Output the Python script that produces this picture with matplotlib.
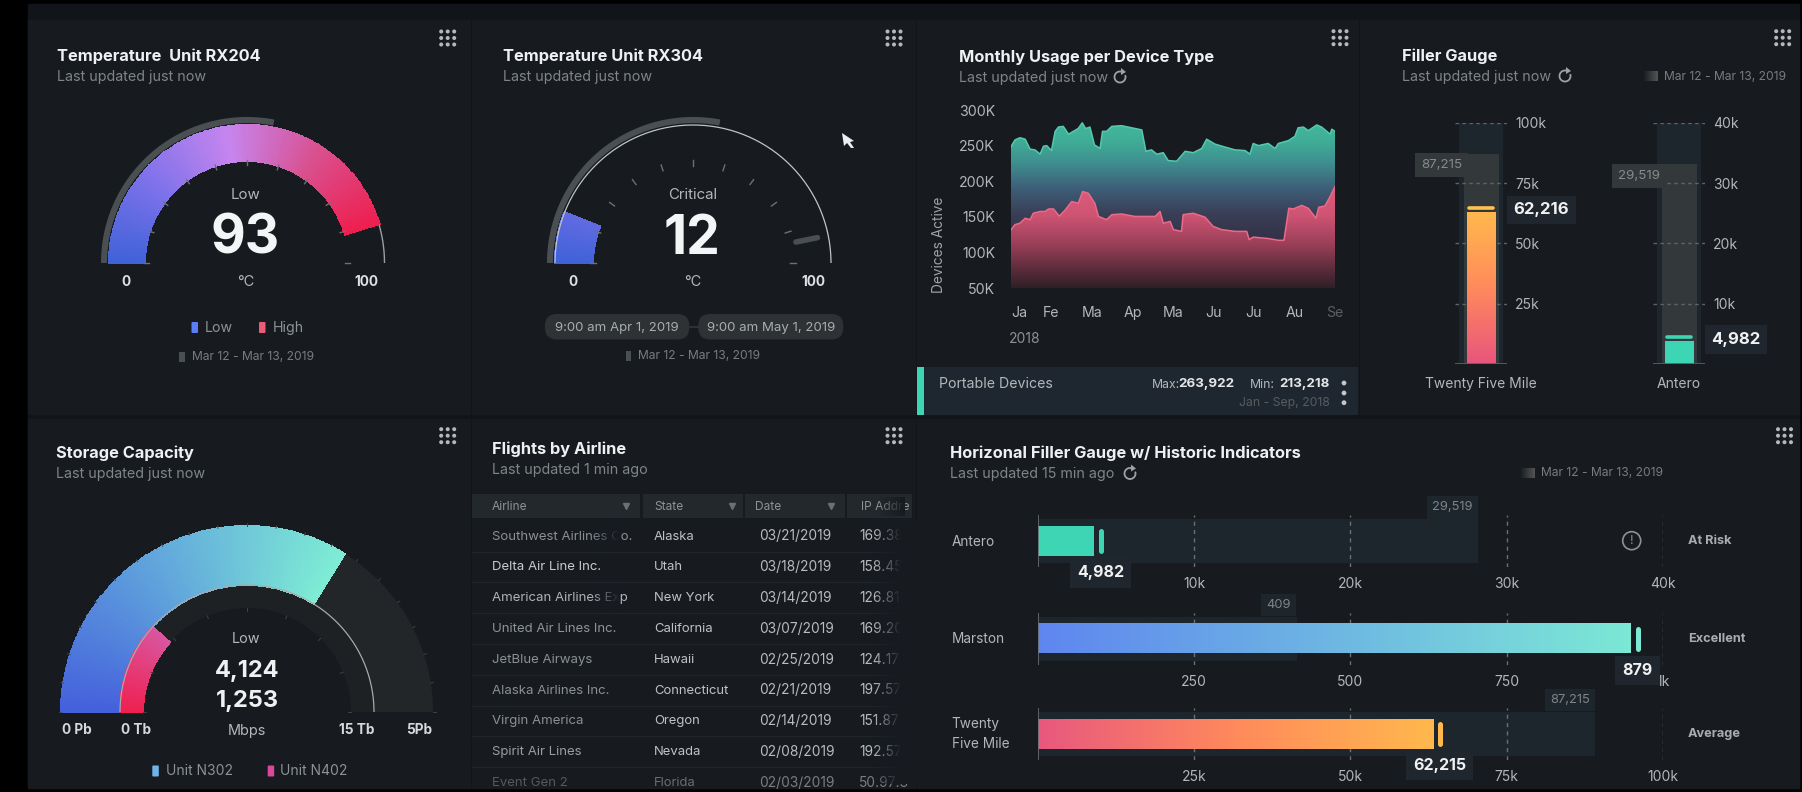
import numpy as np
import matplotlib
matplotlib.use("Agg")
import matplotlib.pyplot as plt
from matplotlib.colors import LinearSegmentedColormap as LSC
from matplotlib.patches import Rectangle, FancyBboxPatch, Polygon, Arc, Circle

plt.rcParams["font.family"] = ["Inter", "DejaVu Sans"]

W, H = 1802, 792

# gauges, on a 0-100 scale
rx204_value = 93
rx204_fill = 91
rx304_value = 12
rx304_fill = 12
rx304_high = 93.6
history_reach = 56
storage_outer_fill = 67.6
storage_inner_fill = 23.3

# monthly usage (month index, thousands of devices)
teal_months = [0, .10, .22, .35, .47, .59, .72, .80, .88, 1.00, 1.09, 1.17, 1.29, 1.42, 1.54, 1.66, 1.76, 1.84, 1.95,
               2.06, 2.20, 2.26, 2.36, 2.49, 2.73, 2.98, 3.23, 3.33, 3.47, 3.60, 3.76, 3.88, 4.09, 4.30, 4.50, 4.71,
               4.83, 5.04, 5.28, 5.53, 5.78, 5.90, 5.98, 6.11, 6.35, 6.52, 6.60, 6.85, 7.01, 7.09, 7.22, 7.34, 7.55,
               7.67, 7.88, 7.92, 8.00]
teal_values = [248.6, 258, 261, 259, 245, 244, 238, 249, 250, 243, 270, 276, 277, 266, 270, 274, 282, 274, 276,
               251, 246, 270, 270, 277, 278, 275, 272, 242, 244, 238, 240, 229, 228, 242, 240, 246,
               259, 252, 248, 244, 243, 238, 253, 250, 253, 246, 253, 257, 263, 275, 276, 271, 279,
               276, 266, 273, 270]
pink_months = [0, .10, .22, .35, .47, .55, .72, .84, .93, 1.05, 1.19, 1.33, 1.50, 1.66, 1.77, 1.91, 2.07, 2.16, 2.36,
               2.49, 2.73, 3.06, 3.56, 3.68, 3.76, 3.93, 4.01, 4.21, 4.25, 4.50, 4.79, 4.99, 5.20, 5.53, 5.82, 5.88,
               5.98, 6.35, 6.60, 6.74, 6.86, 6.97, 7.18, 7.34, 7.53, 7.60, 7.75, 7.88, 8.00]
pink_values = [131.8, 139, 141, 148, 146, 155, 157.5, 157.5, 161, 161, 151, 159, 171.5, 169, 185.5, 183, 169, 150.5, 146,
               153, 154, 150.5, 150.5, 157.5, 141, 143.5, 132, 129.5, 153, 155, 149.5, 136.5, 132, 129.5, 129.5, 118,
               121.5, 119.5, 117, 117, 162, 161, 166, 162, 148, 163.5, 165, 178.5, 192.5]
month_labels = ["Ja", "Fe", "Ma", "Ap", "Ma", "Ju", "Ju", "Au", "Se"]
usage_ticks = [50, 100, 150, 200, 250, 300]
usage_tick_labels = ["50K", "100K", "150K", "200K", "250K", "300K"]

# vertical filler gauges
v_names = ["Twenty Five Mile", "Antero"]
v_fill = [63000, 3800]
v_marker = [64800, 4400]
v_history = [87200, 33200]
v_history_labels = ["87,215", "29,519"]
v_value_labels = ["62,216", "4,982"]
v_max = [100000, 40000]
v_ticks = [[25000, 50000, 75000, 100000], [10000, 20000, 30000, 40000]]
v_tick_labels = [["25k", "50k", "75k", "100k"], ["10k", "20k", "30k", "40k"]]

# horizontal filler gauges
h_names = ["Antero", "Marston", "Twenty\nFive Mile"]
h_status = ["At Risk", "Excellent", "Average"]
h_fill = [3550, 948, 63300]
h_marker = [4018, 960, 64300]
h_history = [28200, 414, 89200]
h_history_labels = ["29,519", "409", "87,215"]
h_value_labels = ["4,982", "879", "62,215"]
h_max = [40000, 1000, 100000]
h_ticks = [[10000, 20000, 30000, 40000], [250, 500, 750, 1000], [25000, 50000, 75000, 100000]]
h_tick_labels = [["10k", "20k", "30k", "40k"], ["250", "500", "750", "1k"], ["25k", "50k", "75k", "100k"]]

# table
table_headers = ["Airline", "State", "Date", "IP Addre"]
airlines = ["Southwest Airlines Co.", "Delta Air Line Inc.", "American Airlines Exp", "United Air Lines Inc.",
            "JetBlue Airways", "Alaska Airlines Inc.", "Virgin America", "Spirit Air Lines", "Event Gen 2"]
states = ["Alaska", "Utah", "New York", "California", "Hawaii", "Connecticut", "Oregon", "Nevada", "Florida"]
dates = ["03/21/2019", "03/18/2019", "03/14/2019", "03/07/2019", "02/25/2019", "02/21/2019", "02/14/2019",
         "02/08/2019", "02/03/2019"]
ips = ["169.38.1", "158.45.2", "126.81.3", "169.20.4", "124.17.5", "197.57.6", "151.87.1", "192.57.2", "50.97.3"]
airline_colors = ["#8b9094", "#c8cccf", "#b0b4b7", "#8f9497", "#8b9094", "#8b9094", "#8b9094", "#9a9ea1", "#565a5d"]

PANEL = "#171b20"
STRIP = "#1e2730"
TRACK = "#1e262d"
HIST = "#33383b"
TITLE = "#eff0f1"
SUB = "#7f8589"
LABEL = "#b3b7ba"
GRAY = "#4a4f52"


def axes_px(x0, y0, x1, y1, **kw):
    ax = fig.add_axes([x0 / W, 1 - y1 / H, (x1 - x0) / W, (y1 - y0) / H], **kw)
    ax.patch.set_alpha(0)
    return ax


def cmap_of(*stops):
    return LSC.from_list("g", list(stops))


fig = plt.figure(figsize=(W / 100, H / 100), dpi=100, facecolor="black")

bg = axes_px(0, 0, W, H)
bg.set_xlim(0, W)
bg.set_ylim(H, 0)
bg.axis("off")
bg.set_zorder(0)

top = axes_px(0, 0, W, H)
top.set_xlim(0, W)
top.set_ylim(H, 0)
top.axis("off")
top.set_zorder(5)

bg.add_patch(Rectangle((28, 4), 1771, 784, color="#111519"))
for x0, x1 in [(28, 470), (472, 915), (917, 1358), (1360, 1799)]:
    bg.add_patch(Rectangle((x0, 20), x1 - x0, 394, color=PANEL))
for x0, x1 in [(28, 470), (472, 915), (917, 1799)]:
    bg.add_patch(Rectangle((x0, 419), x1 - x0, 369, color=PANEL))


def heading(x, y, title, sub, gap=21):
    top.text(x, y + 1, title, color=TITLE, fontsize=11.8, fontweight="bold", va="center")
    top.text(x, y + gap + 1, sub, color=SUB, fontsize=10.3, va="center")


def dots(cx, cy):
    for i in (-1, 0, 1):
        for j in (-1, 0, 1):
            top.add_patch(Circle((cx + i * 6.5, cy + j * 6.5), 2, color="#b5b9bc", lw=0))


def refresh(cx, cy):
    top.add_patch(Arc((cx, cy), 11, 11, theta1=-20, theta2=285, color="#9ea2a5", lw=1.3))
    top.add_patch(Polygon([(cx + 1, cy - 9), (cx + 6, cy - 5), (cx + 1, cy - 2)], color="#9ea2a5", lw=0))


def date_range(x, y, text, width=6, blurred=False):
    top.text(x, y, text, color="#787c80", fontsize=8.7, va="center")
    if blurred:
        bar = np.zeros((1, 32, 4))
        bar[..., :3] = 0.33
        bar[..., 3] = np.linspace(0, 1, 32)
        top.imshow(bar, extent=(x - 21, x - 6, y + 5, y - 5), aspect="auto", zorder=3)
        top.set_xlim(0, W)
        top.set_ylim(H, 0)
    else:
        top.add_patch(Rectangle((x - 12.5, y - 5), width, 10, color=GRAY, lw=0))


def legend_chip(x, y, color):
    top.add_patch(FancyBboxPatch((x + 1, y - 4.5), 4.5, 9, boxstyle="round,pad=1", color=color, lw=0))


def frac(v):
    return np.pi * (1 - np.asarray(v) / 100)


def gauge_axes(cx, cy, R):
    ax = axes_px(cx - R, cy - R, cx + R, cy + R, polar=True)
    ax.set_rlim(0, R)
    ax.axis("off")
    ax.set_zorder(2)
    return ax


def arc_fill(ax, v0, v1, r0, r1, cmap, vmax):
    edges = np.linspace(v0, v1, 241)
    mids = (edges[:-1] + edges[1:]) / 2
    ax.pcolormesh(frac(edges), [r0, r1], mids[None, :], cmap=cmap, vmin=0, vmax=vmax,
                  shading="flat", edgecolors="face", linewidth=0.25)
    ax.set_rlim(0, ax.get_rmax())


def arc_line(ax, v0, v1, r, color, lw):
    ax.plot(frac(np.linspace(v0, v1, 200)), np.full(200, r), color=color, lw=lw, solid_capstyle="butt")


def arc_ticks(ax, vals, r0, r1, color="#6c7175", lw=1):
    for v in vals:
        ax.plot([frac(v), frac(v)], [r0, r1], color=color, lw=lw)


temp_cmap = cmap_of((0, "#3f62d8"), (.25, "#7f72ea"), (.5, "#c685ee"), (.75, "#d9508f"), (1, "#ee1f4f"))
tick_vals = np.arange(0, 101, 10)

# RX204
g = gauge_axes(247, 263, 150)
arc_line(g, 0, history_reach, 143, GRAY, 4.4)
arc_fill(g, 0, rx204_fill, 102, 138, temp_cmap, rx204_fill)
arc_line(g, rx204_fill, 100, 137.5, "#9a9fa3", 1)
arc_ticks(g, tick_vals, 98, 103)

# RX304
g = gauge_axes(693, 263, 150)
arc_line(g, 0, history_reach, 143, GRAY, 4.4)
arc_line(g, 0, 100, 138, "#c0c4c7", 0.9)
arc_fill(g, 0, rx304_fill, 100, 138, temp_cmap, rx204_fill)
arc_ticks(g, tick_vals, 97, 103)
g.plot([frac(rx304_high), frac(rx304_high)], [105, 127], color=GRAY, lw=4, solid_capstyle="round")

# storage
outer_cmap = cmap_of((0, "#4460dc"), (.5, "#62a8dc"), (1, "#7eecd4"))
inner_cmap = cmap_of((0, "#f01f50"), (1, "#d9559d"))
g = gauge_axes(247, 712, 195)
g.bar(frac((storage_outer_fill + 100) / 2), 59, width=np.pi * (100 - storage_outer_fill) / 100, bottom=127,
      color="#232628", lw=0)
g.bar(frac((storage_inner_fill + 100) / 2), 23, width=np.pi * (100 - storage_inner_fill) / 100, bottom=104,
      color="#1e2124", lw=0)
arc_fill(g, 0, storage_outer_fill, 127, 186, outer_cmap, storage_outer_fill)
arc_fill(g, 0, storage_inner_fill, 104, 127, inner_cmap, storage_inner_fill)
arc_line(g, 0, 100, 127, "#a6aaad", 0.9)
arc_ticks(g, np.arange(0, 101, 5), 186, 188.5, color="#3f4346", lw=0.7)
arc_ticks(g, np.arange(0, 101, 12.5), 101, 104, color="#3f4346", lw=0.7)
g.set_rlim(0, 195)

# text of the three gauges
heading(57, 55, "Temperature  Unit RX204", "Last updated just now")
heading(503, 55, "Temperature Unit RX304", "Last updated just now")
heading(56, 452, "Storage Capacity", "Last updated just now")
for cx, word, val in [(246, "Low", rx204_value), (693, "Critical", rx304_value)]:
    top.text(cx, 195, word, color=LABEL, fontsize=10.8, ha="center", va="center")
    top.text(cx - 1, 239, str(val), color="#f4f5f6", fontsize=38.5, fontweight="bold", ha="center", va="center")
    top.text(cx, 282, "°C", color=LABEL, fontsize=10.5, ha="center", va="center")
for x, s in [(126, "0"), (366.7, "100"), (572.7, "0"), (813.3, "100")]:
    top.text(x, 281.5, s, color="#dfe1e3", fontsize=9.8, fontweight="bold", ha="center", va="center")
legend_chip(191.5, 327.5, "#5b7df5")
top.text(205, 328, "Low", color="#8d9295", fontsize=10.2, va="center")
legend_chip(259, 327.5, "#ee5a78")
top.text(272.7, 328, "High", color="#8d9295", fontsize=10.2, va="center")
date_range(191.7, 357, "Mar 12 - Mar 13, 2019")
date_range(638.3, 356, "Mar 12 - Mar 13, 2019", width=5)

bg.plot([680, 705], [326.7, 326.7], color="#2e3235", lw=1.5, zorder=3)
for x0, x1, s in [(545, 689.3, "9:00 am Apr 1, 2019"), (698.3, 843.3, "9:00 am May 1, 2019")]:
    top.add_patch(FancyBboxPatch((x0 + 12, 326), x1 - x0 - 24, 1.5, boxstyle="round,pad=12", color="#2e3235", lw=0))
    top.text((x0 + x1) / 2, 327.5, s, color="#a8adb0", fontsize=9.5, ha="center", va="center", zorder=4)
top.add_patch(Polygon([(842, 133), (854, 141), (850, 142), (854, 148), (851, 148), (847, 143), (844, 146)],
                      color="#eceef0", lw=0))

top.text(246, 639, "Low", color=LABEL, fontsize=10.4, ha="center", va="center")
top.text(247, 670.5, "4,124", color="#f0f1f2", fontsize=17, fontweight="bold", ha="center", va="center")
top.text(247, 701, "1,253", color="#f0f1f2", fontsize=17, fontweight="bold", ha="center", va="center")
top.text(247, 730.5, "Mbps", color=LABEL, fontsize=10.4, ha="center", va="center")
for x, s in [(77, "0 Pb"), (135.7, "0 Tb"), (356.7, "15 Tb"), (419.3, "5Pb")]:
    top.text(x, 730.5, s, color="#d6d8da", fontsize=9.8, fontweight="bold", ha="center", va="center")
legend_chip(152.3, 771, "#6fb4e8")
top.text(165.7, 771, "Unit N302", color="#8d9295", fontsize=10, va="center")
legend_chip(267.7, 771, "#d9489a")
top.text(280, 771, "Unit N402", color="#8d9295", fontsize=10, va="center")

# monthly usage
heading(959, 56, "Monthly Usage per Device Type", "Last updated just now")
refresh(1120, 77)
ax = axes_px(1011, 110, 1335, 288)
ax.set_zorder(2)


def gradient_area(ax, xs, ys, cmap, y_top, line_color):
    poly = ax.fill_between(xs, 50, ys, facecolor="none", lw=0)
    grad = np.linspace(0, 1, 256)[:, None]
    im = ax.imshow(grad, cmap=cmap, extent=(0, 8, 50, y_top), origin="lower", aspect="auto",
                   interpolation="bilinear")
    im.set_clip_path(poly.get_paths()[0], transform=ax.transData)
    ax.plot(xs, ys, color=line_color, lw=1.1)


gradient_area(ax, teal_months, teal_values,
              cmap_of((0, "#2a2c3c"), (.3, "#333248"), (.45, "#3a4058"), (.6, "#3e607a"), (.75, "#3f9090"),
                      (.88, "#3fae97"), (1, "#45b89e")), 285, "#55c9ae")
gradient_area(ax, pink_months, pink_values,
              cmap_of((0, "#2e2026"), (.18, "#5c2c3c"), (.42, "#9a3f58"), (.7, "#cf5474"), (1, "#e05c7c")),
              195, "#ea6a8a")
ax.set_xlim(0, 8)
ax.set_ylim(50, 300)
for s in ax.spines.values():
    s.set_visible(False)
ax.set_yticks(usage_ticks, usage_tick_labels)
ax.set_xticks(range(9), month_labels)
ax.tick_params(length=0, labelsize=10.2, labelcolor=LABEL)
ax.tick_params(axis="y", pad=11.5)
ax.tick_params(axis="x", pad=13)
ax.get_xticklabels()[0].set_ha("left")
ax.get_xticklabels()[-1].set_color("#5b5f62")
ax.set_ylabel("Devices Active", color="#a0a4a7", fontsize=9.8)
ax.yaxis.set_label_coords(-0.2, 0.24)
top.text(1009, 339, "2018", color="#8d9295", fontsize=10, va="center")

bg.add_patch(Rectangle((917, 367), 441, 48, color=STRIP, lw=0, zorder=2))
bg.add_patch(Rectangle((917, 367), 7, 48, color="#3dd6b5", lw=0, zorder=2))
top.text(939, 384.5, "Portable Devices", color=LABEL, fontsize=10.2, va="center")
top.text(1152, 384.5, "Max:", color=LABEL, fontsize=8.8, va="center")
top.text(1234, 384.5, "263,922", color="#e4e6e8", fontsize=9.6, fontweight="bold", ha="right", va="center")
top.text(1250, 384.5, "Min:", color=LABEL, fontsize=8.8, va="center")
top.text(1330, 384.5, "213,218", color="#e4e6e8", fontsize=9.6, fontweight="bold", ha="right", va="center")
top.text(1330, 403, "Jan - Sep, 2018", color="#565b60", fontsize=8.8, ha="right", va="center")
for y in (383, 393, 402.7):
    top.add_patch(Circle((1344, y), 2.4, color="#c3c6c9", lw=0))

# vertical filler gauges
heading(1402, 55, "Filler Gauge", "Last updated just now")
refresh(1565, 76)
date_range(1664, 76.5, "Mar 12 - Mar 13, 2019", blurred=True)
warm_v = cmap_of((0, "#e8557e"), (.5, "#ff8a5c"), (1, "#ffb84d"))
solid_teal = cmap_of((0, "#3dd6b5"), (1, "#3dd6b5"))

for i, cx in enumerate([1481, 1679]):
    ax = axes_px(cx - 26, 123, cx + 26, 364)
    ax.set_zorder(2)
    top_v = v_max[i]
    ax.bar(0, top_v, width=44, color=TRACK, lw=0)
    ax.bar(0, v_history[i], width=35, color=HIST, lw=0)
    ax.imshow(np.linspace(0, 1, 128)[:, None], cmap=[warm_v, solid_teal][i], origin="lower", aspect="auto",
              extent=(-14.5, 14.5, 0, v_fill[i]), zorder=3)
    ax.plot([-12, 12], [v_marker[i], v_marker[i]], color=["#ffc24d", "#3dd6b5"][i], lw=2.6,
            solid_capstyle="round", zorder=3)
    ax.axhline(0, color="#5a5f62", lw=2, zorder=4)
    for t in v_ticks[i]:
        ax.plot([-26, 26], [t, t], color="#5f6467", lw=1, ls=(0, (2.5, 2.5)), zorder=2)
    ax.set_xlim(-26, 26)
    ax.set_ylim(0, top_v)
    for s in ax.spines.values():
        s.set_visible(False)
    ax.yaxis.tick_right()
    ax.set_yticks(v_ticks[i], v_tick_labels[i])
    ax.set_xticks([0], [v_names[i]])
    ax.tick_params(length=0, labelsize=10, labelcolor=LABEL)
    ax.tick_params(axis="y", pad=6)
    ax.tick_params(axis="x", pad=9.5)
    ax.annotate(v_history_labels[i], (-17.5, v_history[i]), xytext=(-1, -4), textcoords="offset points",
                ha="right", va="top", color="#858a8d", fontsize=9.6, annotation_clip=False, zorder=3,
                bbox=dict(boxstyle="square,pad=0.45", fc=HIST, ec="none"))
    ax.annotate(v_value_labels[i], (26, v_marker[i]), xytext=(4.5, -1.5), textcoords="offset points",
                ha="left", va="center", color="#f0f1f2", fontsize=12, fontweight="bold", annotation_clip=False,
                zorder=6, bbox=dict(boxstyle="square,pad=0.4", fc="#1f262d", ec="none"))

# table
heading(491.7, 448, "Flights by Airline", "Last updated 1 min ago")
for x0, x1 in [(472, 640), (643, 743), (745, 845), (847, 912)]:
    bg.add_patch(Rectangle((x0, 494), x1 - x0, 24, color="#23282c", lw=0, zorder=2))
col_x = [491.7, 654, 758.7, 859]
for s, x in zip(table_headers, [491.7, 654, 755, 861]):
    top.text(x, 507.5, s, color="#8d9295", fontsize=8.6, va="center")
for x in (625.7, 731.7, 831):
    top.plot([x], [505.7], marker="v", ms=5, color="#6b7073", lw=0)
top.set_xlim(0, W)
top.set_ylim(H, 0)
for r in range(9):
    y = 536.5 + r * 30.8
    last = r == 8
    if not last:
        bg.plot([472, 912], [y + 15, y + 15], color="#20252a", lw=1, zorder=2)
    top.text(col_x[0], y, airlines[r], color=airline_colors[r], fontsize=9.5, va="center")
    top.text(col_x[1], y, states[r], color="#6a6e71" if last else "#bfc3c6", fontsize=9.4, va="center")
    top.text(col_x[2], y, dates[r], color="#7a7e81" if last else "#b8bcbf", fontsize=9.9, va="center")
    top.text(col_x[3], y, ips[r], color="#7a7e81" if last else "#b8bcbf", fontsize=9.9, va="center", clip_on=True)


def fade(x0, x1, y0, y1):
    # text runs out into the panel colour at a cell edge
    f = np.zeros((1, 64, 4))
    f[..., :3] = matplotlib.colors.to_rgb(PANEL)
    f[..., 3] = np.linspace(0, 1, 64)
    top.imshow(f, extent=(x0, x1, y1, y0), aspect="auto", zorder=4)


fade(873, 901, 522, 784)
top.add_patch(Rectangle((901, 522), 16, 262, color=PANEL, lw=0, zorder=4))
fade(878, 905, 497, 516)
fade(590, 620, 524, 548)
fade(590, 620, 586, 610)
top.set_xlim(0, W)
top.set_ylim(H, 0)

# horizontal filler gauges
heading(950, 452, "Horizonal Filler Gauge w/ Historic Indicators", "Last updated 15 min ago")
refresh(1130, 473.5)
date_range(1541, 473.5, "Mar 12 - Mar 13, 2019", blurred=True)
warm_h = cmap_of((0, "#e8587e"), (.5, "#ff8a5c"), (1, "#ffb84d"))
cool_h = cmap_of((0, "#5f86f0"), (1, "#7ce8d5"))
h_cmaps = [solid_teal, cool_h, warm_h]
h_marker_colors = ["#3dd6b5", "#7ce8d5", "#ffb84d"]
row_y = [541, 638.5, 733.7]

for i, cy in enumerate(row_y):
    ax = axes_px(1037.8, cy - 26, 1662.8, cy + 26)
    ax.set_zorder(2)
    m = h_max[i]
    ax.barh(0, h_history[i], height=44, color=TRACK, lw=0)
    ax.imshow(np.linspace(0, 1, 256)[None, :], cmap=h_cmaps[i], aspect="auto",
              extent=(0, h_fill[i], -15, 15), zorder=3)
    ax.plot([h_marker[i], h_marker[i]], [-10, 10], color=h_marker_colors[i], lw=3.6,
            solid_capstyle="round", zorder=3)
    for t in h_ticks[i]:
        ax.plot([t, t], [-26, 26], color="#6a6f72", lw=1, ls=(0, (3, 3)), zorder=2)
    ax.plot([0, 0], [-26, 26], color="#6a6f72", lw=1.2, zorder=4)
    ax.set_xlim(0, m)
    ax.set_ylim(-26, 26)
    ax.set_yticks([])
    for s in ax.spines.values():
        s.set_visible(False)
    ax.set_xticks(h_ticks[i], h_tick_labels[i])
    ax.tick_params(length=0, labelsize=10, labelcolor=LABEL, pad=7.5)
    ax.annotate(h_history_labels[i], (h_history[i], 22), xytext=(-4, 4), textcoords="offset points",
                ha="right", va="bottom", color="#7f8487", fontsize=9.3, annotation_clip=False, zorder=3,
                bbox=dict(boxstyle="square,pad=0.4", fc=TRACK, ec="none"))
    ax.annotate(h_value_labels[i], (h_marker[i], -32), ha="center", va="center", color="#f0f1f2", fontsize=11.5,
                fontweight="bold", annotation_clip=False, zorder=6,
                bbox=dict(boxstyle="square,pad=0.45", fc="#1f262d", ec="none"))
    top.text(951.8, cy + 0.5, h_names[i], color=LABEL, fontsize=9.8, va="center", linespacing=1.6)
    top.text(1687.8, cy + 0.5, h_status[i], color="#a9adb0", fontsize=9.2, fontweight="bold", va="center")

top.add_patch(Circle((1631.7, 540.7), 9, fill=False, ec="#8d9295", lw=1.2))
top.text(1631.7, 541, "!", color="#8d9295", fontsize=9, ha="center", va="center")

for cx, cy in [(447.7, 38), (894, 38), (1340, 37.7), (1782.7, 37.7), (447.7, 435.7), (894, 435.7), (1784.5, 435.7)]:
    dots(cx, cy)

top.set_xlim(0, W)
top.set_ylim(H, 0)
fig.savefig("out.png", dpi=100, facecolor="black")
